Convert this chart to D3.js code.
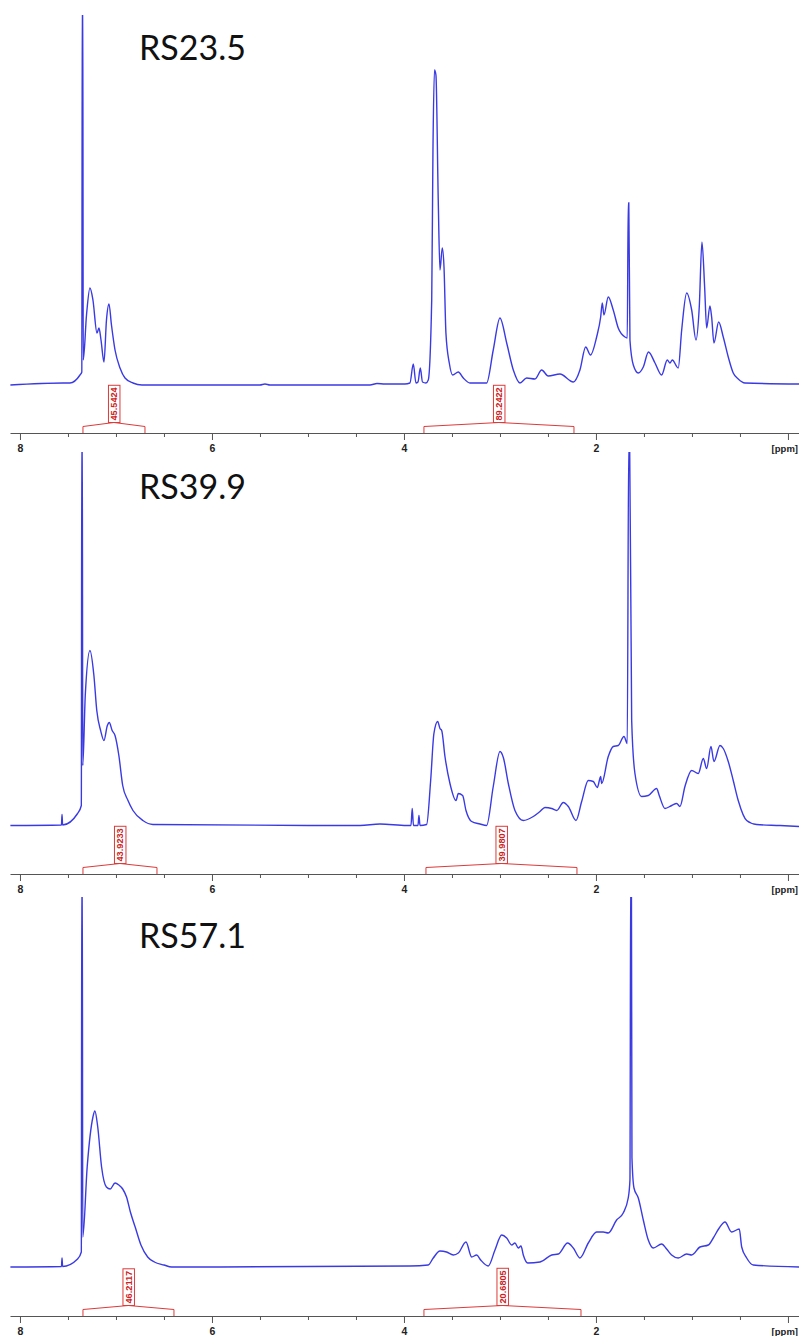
<!DOCTYPE html>
<html>
<head>
<script src="https://d3js.org/d3.v7.min.js"></script>
<style>
  body { margin: 0; background: #fff; }
</style>
</head>
<body>
<script>
// sample names and integral readings
const titles = ['RS23.5', 'RS39.9', 'RS57.1'];
const integralLabels = [['45.5424', '89.2422'], ['43.9233', '39.9807'], ['46.2117', '20.6805']];
const integralRanges = [
  [[7.344, 6.698], [3.792, 2.229]],
  [[7.344, 6.573], [3.771, 2.198]],
  [[7.344, 6.396], [3.792, 2.156]]
];

// axis ticks (ppm)
const tickPpm = [8, 7.5, 7, 6.5, 6, 5.5, 5, 4.5, 4, 3.5, 3, 2.5, 2, 1.5, 1, 0.5, 0];
const majorPpm = [8, 6, 4, 2, 0];
const tickLabels = ['8', '6', '4', '2', ''];

// RS23.5 spectrum (ppm, intensity a.u.)
const ppm1 = [8.10, 7.55, 7.48, 7.375, 7.356, 7.351, 7.346, 7.341, 7.307, 7.271, 7.240, 7.198, 7.177, 7.156, 7.125, 7.099, 7.073, 7.047, 7.010, 6.958, 6.906, 6.823, 6.729,
  5.50, 5.448, 5.396, 4.354, 4.281, 4.198, 3.990, 3.938, 3.903, 3.875, 3.854, 3.830, 3.807, 3.771, 3.747, 3.711, 3.698, 3.682, 3.667, 3.643, 3.625, 3.601, 3.583, 3.563, 3.528, 3.493, 3.434, 3.382, 3.313,
  3.139, 3.070, 3.000, 2.930, 2.861, 2.792, 2.722, 2.635, 2.566, 2.497, 2.375, 2.236, 2.167, 2.107, 2.057, 1.993, 1.951, 1.934, 1.917, 1.872, 1.820, 1.768, 1.698, 1.674, 1.664, 1.658, 1.646, 1.611, 1.559,
  1.507, 1.453, 1.385, 1.316, 1.257, 1.229, 1.205, 1.143, 1.107, 1.055, 1.003, 0.958, 0.924, 0.896, 0.868, 0.847, 0.813, 0.795, 0.771, 0.722, 0.674, 0.622, 0.570, 0.518, 0.448, -0.115];
const int1 = [0, 2, 2, 10, 13, 400, 400, 25, 70, 97, 85, 52, 57, 45, 23, 65, 81, 60, 35, 17, 7, 2, 0,
  0, 1, 0, 0, 1.5, 1, 1, 2, 21, 2, 3, 17, 3, 2, 5, 85, 235, 315, 310, 185, 115, 137, 118, 52, 22, 10, 13, 7, 2,
  2, 35, 67, 42, 15, 2, 7, 6, 15, 9, 11, 3, 15, 38, 30, 48, 68, 82, 70, 88, 75, 57, 48, 47, 182, 182, 45, 20, 12,
  18, 33, 22, 10, 25, 22, 25, 17, 55, 92, 75, 45, 78, 143, 98, 57, 79, 68, 42, 63, 48, 28, 12, 6, 2, 1];

// RS39.9 spectrum
const ppm2 = [8.10, 7.568, 7.562, 7.556, 7.40, 7.361, 7.356, 7.351, 7.346, 7.32, 7.271, 7.23, 7.20, 7.16, 7.125, 7.09, 7.07, 7.04, 7.01, 6.97, 6.93, 6.875, 6.823, 6.72, 6.615,
  5.0, 4.458, 4.250, 3.972, 3.927, 3.914, 3.901, 3.854, 3.844, 3.833, 3.764, 3.722, 3.688, 3.649, 3.625, 3.607, 3.573, 3.521, 3.458, 3.434, 3.389, 3.354, 3.295, 3.208,
  3.139, 3.070, 3.000, 2.965, 2.913, 2.844, 2.757, 2.653, 2.583, 2.531, 2.461, 2.409, 2.340, 2.288, 2.208, 2.149, 2.080, 2.028, 1.986, 1.951, 1.941, 1.872, 1.820, 1.768, 1.708, 1.674, 1.659, 1.649, 1.628,
  1.594, 1.524, 1.455, 1.368, 1.341, 1.281, 1.211, 1.159, 1.125, 1.073, 1.003, 0.934, 0.882, 0.847, 0.802, 0.771, 0.708, 0.674, 0.622, 0.570, 0.518, 0.430, 0.326, 0.083, -0.115];
const int2 = [0, 0.5, 11, 0.5, 12, 20, 400, 400, 60, 130, 175, 150, 115, 95, 85, 100, 103, 95, 90, 70, 40, 25, 15, 5, 1,
  0, 0, 1.5, 0, 0, 17, 0, 0, 10, 0, 1, 45, 92, 104, 97, 95, 69, 42, 25, 32, 30, 15, 4, 1.5,
  0, 39, 74, 68, 42, 15, 5, 9, 14, 18, 17, 15, 23, 19, 5, 24, 45, 44, 38, 49, 42, 69, 79, 80, 89, 82, 380, 380, 105,
  52, 29, 30, 37, 30, 17, 20, 22, 19, 39, 55, 52, 67, 57, 79, 64, 80, 77, 64, 45, 25, 5, 1, 0, -1];

// RS57.1 spectrum
const ppm3 = [8.10, 7.568, 7.562, 7.556, 7.40, 7.361, 7.356, 7.351, 7.346, 7.30, 7.24, 7.22, 7.19, 7.15, 7.10, 7.06, 7.01, 6.97, 6.93, 6.89, 6.85, 6.80, 6.74, 6.67, 6.60, 6.50, 6.42,
  3.938, 3.747, 3.695, 3.625, 3.556, 3.486, 3.434, 3.354, 3.295, 3.243, 3.201, 3.122, 3.052, 2.982, 2.930, 2.878, 2.844, 2.809, 2.781, 2.757, 2.711, 2.583, 2.461, 2.392, 2.295, 2.236, 2.167,
  2.080, 1.993, 1.924, 1.872, 1.785, 1.716, 1.664, 1.646, 1.638, 1.631, 1.625, 1.604, 1.559, 1.507, 1.455, 1.403, 1.316, 1.264, 1.212, 1.143, 1.055, 1.003, 0.917, 0.830, 0.778, 0.716, 0.656,
  0.587, 0.507, 0.482, 0.430, 0.361, -0.115];
const int3 = [0, 0.5, 9, 0.5, 8, 15, 400, 400, 30, 100, 150, 156, 140, 100, 80, 78, 84, 82, 78, 70, 55, 40, 22, 10, 5, 2, 0,
  1, 2, 9, 16, 15, 12, 14, 25, 10, 12, 7, 1, 17, 32, 29, 22, 24, 19, 21, 12, 4, 5, 12, 13, 24, 19, 9,
  24, 35, 35, 34, 47, 54, 69, 87, 400, 400, 109, 79, 69, 47, 27, 19, 23, 18, 12, 9, 13, 12, 20, 22, 29, 39, 45,
  35, 38, 20, 9, 2, 0];

const spectra = [[ppm1, int1], [ppm2, int2], [ppm3, int3]];

// page layout
const W = 799, H = 1336;
const panels = [
  {top: 15, base: 385, axis: 433, titleY: 60},
  {top: 452, base: 825.5, axis: 874, titleY: 499},
  {top: 897, base: 1267, axis: 1316, titleY: 948}
];
const blue = '#3a3ae4', red = '#dd3a3a';

const svg = d3.select('body').append('svg').attr('width', W).attr('height', H)
  .style('font-family', 'Liberation Sans, Arial, sans-serif');

const x = d3.scaleLinear().domain([8.104, -0.115]).range([10, 799]);

panels.forEach((p, i) => {
  const y = d3.scaleLinear().domain([0, p.base - p.top]).range([p.base, p.top]);
  const g = svg.append('g');

  g.append('clipPath').attr('id', 'clip' + i)
    .append('rect').attr('x', 0).attr('y', p.top).attr('width', W).attr('height', p.base - p.top + 20);

  const [ppm, inten] = spectra[i];
  const line = d3.line()
    .x((d, j) => x(ppm[j]))
    .y((d, j) => y(inten[j]))
    .curve(d3.curveMonotoneX);

  g.append('path')
    .datum(ppm)
    .attr('d', line)
    .attr('clip-path', `url(#clip${i})`)
    .attr('fill', 'none')
    .attr('stroke', blue)
    .attr('stroke-width', 1.4);

  // axis
  const axis = d3.axisBottom(x)
    .tickValues(tickPpm)
    .tickSizeInner(4)
    .tickSizeOuter(0)
    .tickFormat(d => {
      const k = majorPpm.indexOf(d);
      return k >= 0 ? tickLabels[k] : '';
    });
  const ag = g.append('g').attr('transform', `translate(0,${p.axis})`).call(axis);
  ag.select('.domain').attr('stroke', '#555');
  ag.selectAll('.tick line').attr('stroke', '#555');
  ag.selectAll('.tick').filter(d => majorPpm.includes(d)).select('line').attr('y2', 7);
  ag.selectAll('.tick text')
    .attr('y', 12)
    .attr('fill', '#222')
    .style('font-size', '10.5px')
    .style('font-weight', 'bold')
    .style('font-family', 'Liberation Sans, Arial, sans-serif');
  ag.append('text')
    .attr('x', 798).attr('y', 19)
    .attr('text-anchor', 'end')
    .attr('fill', '#222')
    .style('font-size', '9.5px')
    .style('font-weight', 'bold')
    .style('font-family', 'Liberation Sans, Arial, sans-serif')
    .text('[ppm]');

  // integrals
  integralRanges[i].forEach((r, k) => {
    const x0 = x(r[0]), x1 = x(r[1]), cx = (x0 + x1) / 2;
    const ig = g.append('g');
    ig.append('path')
      .attr('d', `M${x0},${p.axis}V${p.axis - 6.5}L${cx},${p.axis - 10.5}L${x1},${p.axis - 6.5}V${p.axis}`)
      .attr('fill', 'none')
      .attr('stroke', red)
      .attr('stroke-width', 1);
    const txt = ig.append('text')
      .attr('transform', `translate(${cx + 3.5},${p.axis - 12.5}) rotate(-90)`)
      .attr('fill', '#cc2222')
      .style('font-size', '9.2px')
      .style('font-weight', 'bold')
      .text(integralLabels[i][k]);
    const len = txt.node().getComputedTextLength();
    ig.insert('rect', 'text')
      .attr('x', cx - 5.5).attr('y', p.axis - 10.5 - len - 4)
      .attr('width', 11.5).attr('height', len + 4)
      .attr('fill', '#fff')
      .attr('stroke', red)
      .attr('stroke-width', 1);
  });

  // sample name
  g.append('text')
    .attr('x', 139).attr('y', p.titleY)
    .attr('fill', '#111')
    .style('font-family', 'Lato, sans-serif')
    .style('font-size', '34px')
    .text(titles[i]);
});
</script>
</body>
</html>
